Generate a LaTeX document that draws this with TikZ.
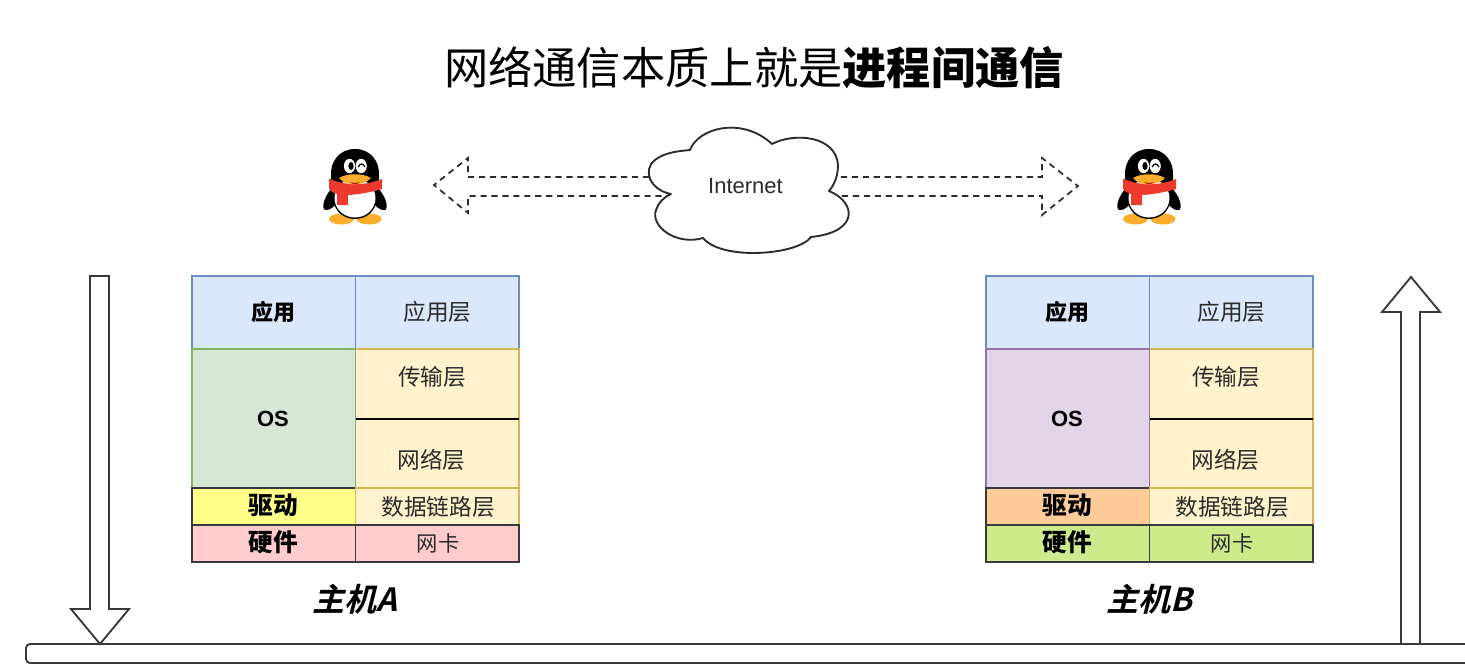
\documentclass[tikz,border=0pt]{standalone}
\usepackage{fontspec}
\setmainfont{Noto Sans CJK SC}
\newfontfamily\latinfont{Liberation Sans}
\newfontfamily\slantfont[FakeSlant=0.25]{Noto Sans CJK SC Bold}
\definecolor{ink}{HTML}{2B2B2B}
\definecolor{dark}{HTML}{36393D}
\definecolor{bluefill}{HTML}{DAE8FC}
\definecolor{blueline}{HTML}{6C8EBF}
\definecolor{greenfill}{HTML}{D5E8D4}
\definecolor{greenline}{HTML}{82B366}
\definecolor{creamfill}{HTML}{FFF2CC}
\definecolor{creamline}{HTML}{D6B656}
\definecolor{yellowfill}{HTML}{FFFF88}
\definecolor{pinkfill}{HTML}{FFCCCC}
\definecolor{purplefill}{HTML}{E1D5E7}
\definecolor{purpleline}{HTML}{9673A6}
\definecolor{orangefill}{HTML}{FFCC99}
\definecolor{limefill}{HTML}{CDEB8B}
\definecolor{peng}{HTML}{FBAE2C}
\definecolor{scarf}{HTML}{EE3A2E}
\newcommand{\fsz}[1]{\fontsize{#1}{#1}\selectfont}
\tikzset{
  x=0.75pt,y=-0.75pt,
  cell/.style={rectangle,draw,line width=1.1pt,inner sep=0pt,outer sep=0pt,minimum width=122.6pt,anchor=north west},
  lab/.style={text=ink,font=\fsz{17},inner sep=0pt},
  blab/.style={text=black,font=\fsz{16.5}\bfseries,inner sep=0pt},
  hlab/.style={text=black,font=\fsz{18.5}\bfseries,inner sep=0pt},
  oslab/.style={text=black,font=\latinfont\fsz{16.5}\bfseries,inner sep=0pt},
  hostlab/.style={text=black,font=\slantfont\fsz{24},inner sep=0pt},
  block/.style={draw=dark,line width=1.4pt,fill=white,line join=miter},
  dashblock/.style={draw=ink,line width=1.3pt,dash pattern=on 4.6pt off 3.6pt},
  penguin/.pic={
    \fill[peng] (-13.5,35) ellipse [x radius=12.5,y radius=5.5];
    \fill[peng] (14,35) ellipse [x radius=12.5,y radius=5.5];
    \fill[black] (-22,3) .. controls (-31,12) and (-34,24) .. (-30,26) .. controls (-25,27) and (-20,22) .. (-16,16) -- cycle;
    \fill[black] (22,3) .. controls (31,12) and (34,24) .. (30,26) .. controls (25,27) and (20,22) .. (16,16) -- cycle;
    \fill[black] (0,-35) .. controls (16,-35) and (25,-22) .. (24,-8) .. controls (24,10) and (24,34) .. (0,35) .. controls (-24,34) and (-24,10) .. (-24,-8) .. controls (-25,-22) and (-16,-35) .. (0,-35) -- cycle;
    \fill[white] (0,14) ellipse [x radius=20.5,y radius=19.5];
    \fill[white] (-5.5,-18) ellipse [x radius=5.6,y radius=7.2];
    \fill[white] (6.2,-18) ellipse [x radius=5.6,y radius=7.2];
    \fill[black] (-4,-18) ellipse [x radius=2.6,y radius=4];
    \draw[black,line width=0.9pt] (3.2,-17) .. controls (5,-21) and (8,-21) .. (10,-17);
    \fill[scarf] (-26,-5.5) .. controls (-10,2) and (10,2) .. (27,-5) -- (27,5) .. controls (10,10) and (-5,11) .. (-7,11) -- (-7,21) -- (-18,21) -- (-18,10) .. controls (-22,9) and (-24,7) .. (-26,5) -- cycle;
    \fill[peng] (-16,-6) .. controls (-8,-11) and (8,-11) .. (16,-6) .. controls (10,1) and (-8,4) .. (-16,-6) -- cycle;
    \fill[scarf!70!black] (-5,-2) .. controls (-2,-1) and (2,-1) .. (5,-2) .. controls (2,1) and (-2,1) .. (-5,-2) -- cycle;
  }
}
\newcommand{\hoststack}[7]{%
  \begin{scope}[shift={(#2,0)}]
    \node[cell,draw=blueline,fill=bluefill,minimum height=54.75pt] (#1app) at (192,276) {};
    \node[cell,draw=blueline,fill=bluefill,minimum height=54.75pt] (#1appr) at (355.5,276) {};
    \node[blab] (#1appt) at (273,312) {应用};
    \node[lab] (#1apprt) at (437.5,312) {应用层};
    \node[cell,draw=creamline,fill=creamfill,minimum height=52pt] (#1trans) at (355.5,349) {};
    \node[cell,draw=creamline,fill=creamfill,minimum height=52pt] (#1net) at (355.5,419) {};
    \node[cell,draw=#4,fill=#3,minimum height=104.25pt] (#1os) at (192,349) {};
    \node[oslab] (#1ost) at (273,419) {OS};
    \node[lab] (#1transt) at (432,377) {传输层};
    \node[lab] (#1nett) at (431.5,460) {网络层};
    \node[cell,draw=dark,fill=#5,minimum height=27.75pt] (#1drv) at (192,488) {};
    \node[cell,draw=creamline,fill=creamfill,minimum height=27.75pt] (#1link) at (355.5,488) {};
    \node[hlab] (#1drvt) at (273,505) {驱动};
    \node[lab] (#1linkt) at (438,507) {数据链路层};
    \node[cell,draw=dark,fill=#6,minimum height=27.75pt] (#1hw) at (192,525) {};
    \node[cell,draw=dark,fill=#6,minimum height=27.75pt] (#1nic) at (355.5,525) {};
    \node[hlab] (#1hwt) at (273,542) {硬件};
    \node[lab,font=\fsz{16}] (#1nict) at (438,543) {网卡};
    \draw[black,line width=1.1pt] (#1net.north west) -- (#1net.north east);
    \node[hostlab] (#1name) at (355,599) {#7};
  \end{scope}}
\begin{document}
\begin{tikzpicture}
\useasboundingbox (0,0) rectangle (1465,665);
\fill[white] (0,0) rectangle (1465,665);
\node[inner sep=0pt,text=black,font=\fsz{33.2}] (title) at (754,68) {网络通信本质上就是\textbf{进程间通信}};
% dashed block arrows
\draw[dashblock] (660,177) -- (468,177) -- (468,158) -- (434,185) -- (468,213) -- (468,196) -- (670,196);
\draw[dashblock] (830,177) -- (1042,177) -- (1042,158) -- (1078,186) -- (1042,215) -- (1042,196) -- (830,196);
% cloud
\draw[fill=white,draw=ink,line width=1.4pt,line join=round]
  (690,150) .. controls (698,128) and (742,116) .. (772,144)
  .. controls (795,132) and (836,136) .. (838,165)
  .. controls (838,175) and (835,184) .. (829,191)
  .. controls (856,202) and (860,232) .. (811,237)
  .. controls (798,255) and (722,261) .. (703,238)
  .. controls (676,246) and (650,226) .. (656,210)
  .. controls (658,203) and (664,197) .. (671,194)
  .. controls (650,190) and (642,170) .. (655,160)
  .. controls (665,152) and (680,151) .. (690,150) -- cycle;
\node[inner sep=0pt,text=ink,font=\latinfont\fsz{16.5}] (cloudt) at (745.5,186) {Internet};
\pic (pa) at (355,184) {penguin};
\pic (pb) at (1149,184) {penguin};
\hoststack{a}{0}{greenfill}{greenline}{yellowfill}{pinkfill}{主机A}
\hoststack{b}{794}{purplefill}{purpleline}{orangefill}{limefill}{主机B}
% bar and block arrows
\draw[block,fill=white,rounded corners=3pt] (1466,644) -- (26,644) -- (26,663) -- (1466,663);
\draw[block] (90,276) -- (109,276) -- (109,609) -- (129,609) -- (100,644) -- (71,609) -- (90,609) -- cycle;
\draw[block] (1401,644) -- (1401,312) -- (1382,312) -- (1411,277) -- (1440,312) -- (1420,312) -- (1420,644) -- cycle;
\end{tikzpicture}
\end{document}
